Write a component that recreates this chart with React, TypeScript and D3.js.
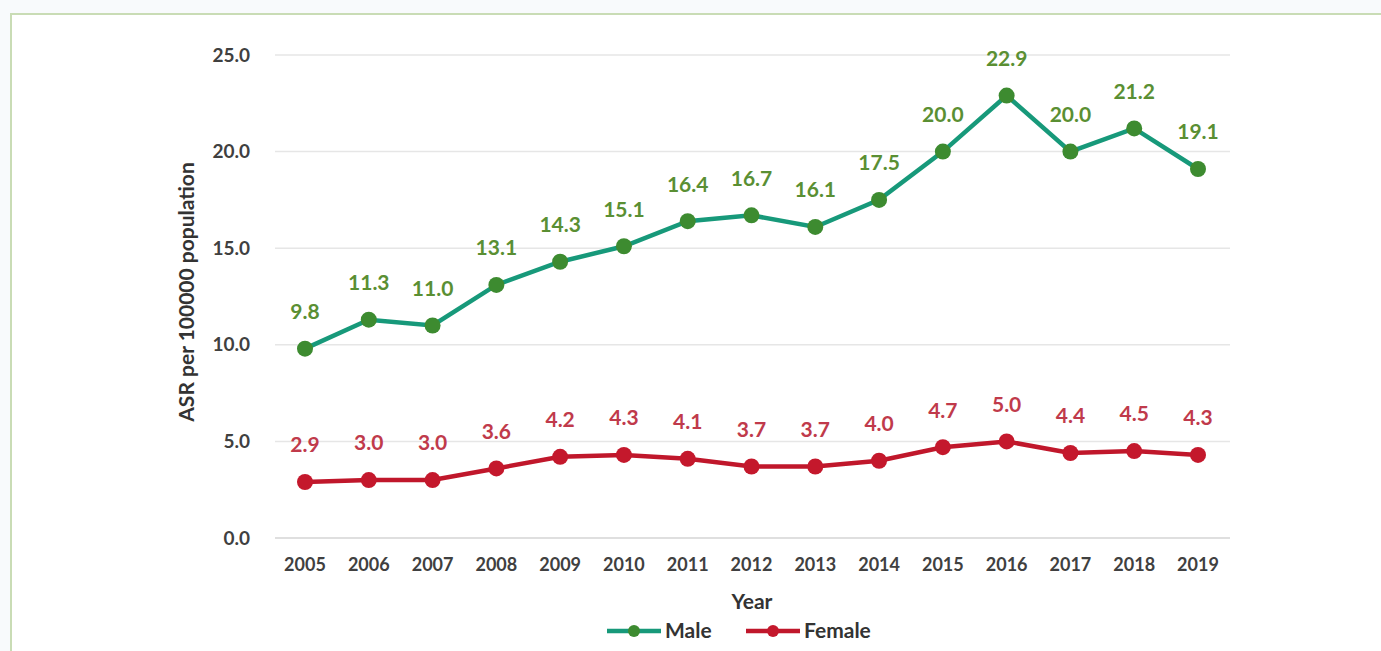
import * as d3 from 'd3';
import React from 'react';

const years = ['2005', '2006', '2007', '2008', '2009', '2010', '2011', '2012', '2013', '2014', '2015', '2016', '2017', '2018', '2019'];
const male = [9.8, 11.3, 11.0, 13.1, 14.3, 15.1, 16.4, 16.7, 16.1, 17.5, 20.0, 22.9, 20.0, 21.2, 19.1];
const female = [2.9, 3.0, 3.0, 3.6, 4.2, 4.3, 4.1, 3.7, 3.7, 4.0, 4.7, 5.0, 4.4, 4.5, 4.3];
const yTicks = [0, 5, 10, 15, 20, 25];

const W = 1381;
const H = 651;
const font = 'Lato, "Open Sans", sans-serif';

const series = [
  { name: 'Male', values: male, line: '#17997a', dot: '#3d8b30', label: '#5a8f33' },
  { name: 'Female', values: female, line: '#c0172b', dot: '#c4182c', label: '#c03a4b' },
];

export default function App() {
  const x = d3.scalePoint<string>().domain(years).range([305, 1198]);
  const y = d3.scaleLinear().domain([0, 25]).range([538, 55]);
  const line = d3
    .line<number>()
    .x((_, i) => x(years[i]) as number)
    .y((d) => y(d));

  return (
    <svg width={W} height={H} style={{ position: 'absolute', left: 0, top: 0 }} fontFamily={font}>
      <rect x={0} y={0} width={W} height={H} fill="#f8fafc" />
      <rect x={11} y={14} width={W + 20} height={H + 20} fill="#ffffff" stroke="#c9dcb5" strokeWidth={2} />

      {yTicks.map((t) => (
        <g key={t}>
          <line x1={275} x2={1230} y1={y(t)} y2={y(t)} stroke={t === 0 ? '#d4d4d4' : '#e6e6e6'} strokeWidth={1.5} />
          <text x={250} y={y(t)} dy="0.35em" textAnchor="end" fontSize={19} fontWeight={700} fill="#404040">
            {t.toFixed(1)}
          </text>
        </g>
      ))}

      {years.map((yr) => (
        <text key={yr} x={x(yr)} y={565} dy="0.35em" textAnchor="middle" fontSize={18} fontWeight={700} fill="#404040">
          {yr}
        </text>
      ))}

      <text x={752} y={602} dy="0.35em" textAnchor="middle" fontSize={21} fontWeight={700} fill="#333">
        Year
      </text>
      <text
        transform={`translate(187, 292) rotate(-90)`}
        dy="0.35em"
        textAnchor="middle"
        fontSize={21}
        fontWeight={700}
        fill="#333"
      >
        ASR per 100000 population
      </text>

      {series.map((s) => (
        <g key={s.name}>
          <path d={line(s.values) ?? ''} fill="none" stroke={s.line} strokeWidth={4.5} />
          {s.values.map((v, i) => (
            <circle key={i} cx={x(years[i])} cy={y(v)} r={8} fill={s.dot} />
          ))}
          {s.values.map((v, i) => (
            <text
              key={'l' + i}
              x={x(years[i])}
              y={y(v) - 37}
              dy="0.35em"
              textAnchor="middle"
              fontSize={21}
              fontWeight={700}
              fill={s.label}
            >
              {v.toFixed(1)}
            </text>
          ))}
        </g>
      ))}

      {series.map((s, i) => {
        const lx = i === 0 ? 607 : 746;
        return (
          <g key={'leg' + s.name}>
            <line x1={lx} x2={lx + 54} y1={631} y2={631} stroke={s.line} strokeWidth={4.5} />
            <circle cx={lx + 27} cy={631} r={6} fill={s.dot} />
            <text x={lx + 58} y={631} dy="0.35em" fontSize={21} fontWeight={700} fill="#333">
              {s.name}
            </text>
          </g>
        );
      })}
    </svg>
  );
}
